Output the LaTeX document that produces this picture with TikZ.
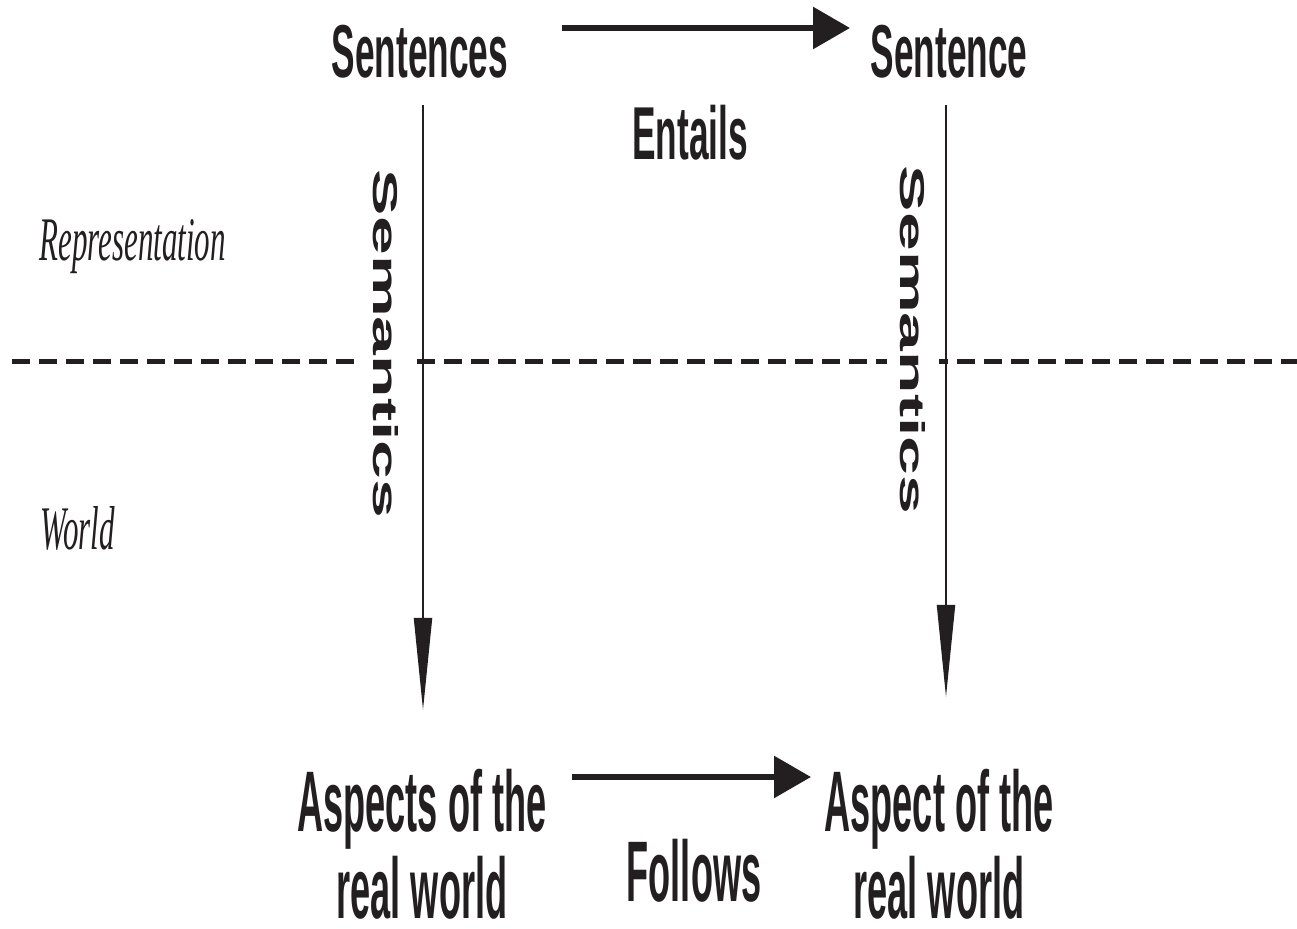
\documentclass[tikz,border=0pt]{standalone}
\usepackage{fontspec}
\usepackage{graphicx}
\usetikzlibrary{arrows.meta}
\newfontfamily\topfont[FakeStretch=0.47]{Liberation Sans}
\newfontfamily\botfont[FakeStretch=0.42]{Liberation Sans}
\newfontfamily\sidefont[FakeStretch=0.5]{Liberation Serif}
\newfontfamily\semfont{Liberation Sans}
\definecolor{ink}{RGB}{35,31,32}
\begin{document}
\begin{tikzpicture}[x=0.5pt,y=-0.5pt,
  toptext/.style={inner sep=0pt, anchor=base, text=ink, font=\topfont\bfseries\fontsize{37.5}{40}\selectfont},
  bottext/.style={inner sep=0pt, align=center, text=ink, font=\botfont\bfseries\fontsize{43}{43.5}\selectfont},
  sidetext/.style={inner sep=0pt, anchor=base west, text=ink, font=\sidefont\itshape\fontsize{31}{33}\selectfont},
  semtext/.style={rotate=-90, fill=white, inner sep=6.5pt, text=ink},
  bigarrow/.style={draw=ink, line width=3pt, -{Triangle[length=18.5pt,width=20.5pt]}},
  downarrow/.style={draw=ink, line width=1pt, -{Triangle[length=46pt,width=9pt]}},
  divider/.style={draw=ink, line width=2.5pt, dash pattern=on 9pt off 4.5pt}]
\useasboundingbox (0,0) rectangle (1297,929);
% divider between representation and world
\coordinate (divL) at (12,362);
\coordinate (divR) at (1297,362);
\draw[divider] (divL) -- (divR);
% side labels
\node[sidetext] (repr) at (39,261) {Representation};
\node[sidetext] (world) at (40,550) {World};
% top texts
\node[toptext] (sentences) at (420,78) {Sentences};
\node[toptext] (sentence) at (949,78) {Sentence};
\node[toptext] (entails) at (690,160) {Entails};
% bottom texts
\node[bottext] (aspects) at (422,844) {Aspects of the\\real world};
\node[bottext] (aspect) at (939,844) {Aspect of the\\real world};
\node[bottext, anchor=base] (follows) at (694,902) {Follows};
% vertical semantics labels
\node[semtext] (sem1) at (386,344) {\resizebox{174pt}{12.5pt}{\semfont\bfseries Semantics}};
\node[semtext] (sem2) at (913,340) {\resizebox{174pt}{12.5pt}{\semfont\bfseries Semantics}};
% arrows
\coordinate (entA) at (562,28);
\coordinate (entB) at (850,28);
\draw[bigarrow] (entA) -- (entB);
\coordinate (folA) at (572,777);
\coordinate (folB) at (811,777);
\draw[bigarrow] (folA) -- (folB);
\coordinate (semLA) at (423,105);
\coordinate (semLB) at (423,710);
\draw[downarrow] (semLA) -- (semLB);
\coordinate (semRA) at (946,105);
\coordinate (semRB) at (946,697);
\draw[downarrow] (semRA) -- (semRB);
\end{tikzpicture}
\end{document}
